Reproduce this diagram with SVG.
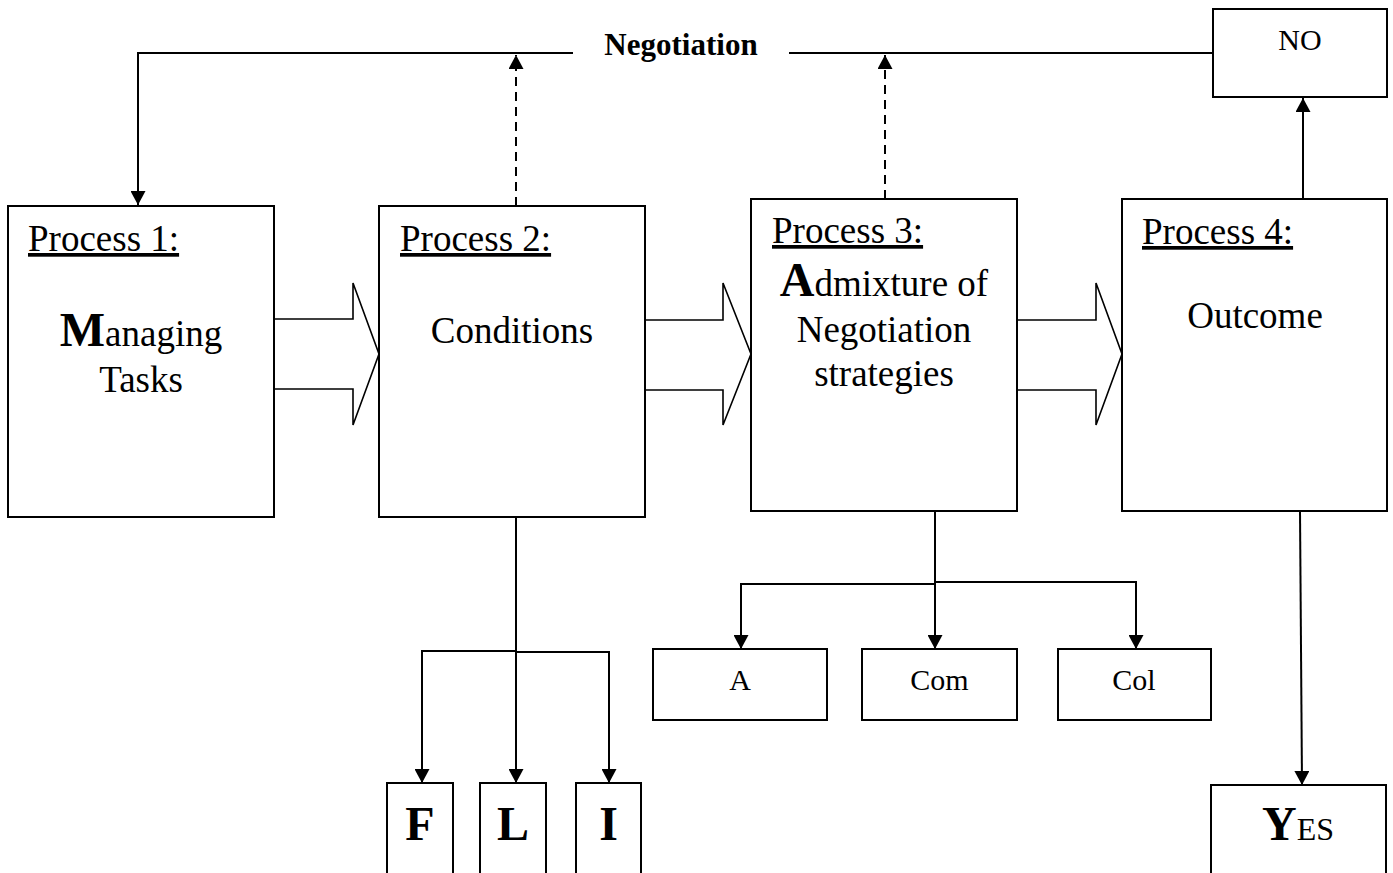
<svg xmlns="http://www.w3.org/2000/svg" width="1393" height="873" viewBox="0 0 1393 873">
<style>
.box{fill:#fff;stroke:#000;stroke-width:2}
.ln{fill:none;stroke:#000;stroke-width:2}
.dash{fill:none;stroke:#000;stroke-width:2;stroke-dasharray:9,6}
.blk{fill:#fff;stroke:#000;stroke-width:1.6;stroke-linejoin:miter}
text{font-family:"Liberation Serif","Times New Roman",serif;fill:#000}
.lbl{font-size:37px;text-decoration:underline}
.body{font-size:37px;text-anchor:middle}
.small{font-size:30px;text-anchor:middle}
.big{font-size:48px;font-weight:bold}
</style>
<defs>
<marker id="ah" viewBox="0 0 14 15" refX="14" refY="7.5" markerWidth="14" markerHeight="15" markerUnits="userSpaceOnUse" orient="auto">
<path d="M0,0 L14,7.5 L0,15 Z" fill="#000"/>
</marker>
</defs>
<rect width="1393" height="873" fill="#fff"/>

<g id="connectors">
<polyline class="ln" points="573,53 138,53 138,205" marker-end="url(#ah)"/>
<line class="ln" x1="789" y1="53" x2="1213" y2="53"/>
<line class="dash" x1="516" y1="206" x2="516" y2="55" marker-end="url(#ah)"/>
<line class="dash" x1="885" y1="199" x2="885" y2="55" marker-end="url(#ah)"/>
<line class="ln" x1="1303" y1="199" x2="1303" y2="98" marker-end="url(#ah)"/>
<polyline class="blk" points="274,319 353,319 353,283 379,354 353,425 353,389 274,389"/>
<polyline class="blk" points="645,320 723,320 723,283 751,354 723,425 723,390 645,390"/>
<polyline class="blk" points="1017,320 1096,320 1096,283 1122,354 1096,425 1096,390 1017,390"/>
<line class="ln" x1="516" y1="517" x2="516" y2="783" marker-end="url(#ah)"/>
<polyline class="ln" points="516,651 422,651 422,783" marker-end="url(#ah)"/>
<polyline class="ln" points="516,652 609,652 609,783" marker-end="url(#ah)"/>
<line class="ln" x1="935" y1="511" x2="935" y2="649" marker-end="url(#ah)"/>
<polyline class="ln" points="935,584 741,584 741,649" marker-end="url(#ah)"/>
<polyline class="ln" points="935,582 1136,582 1136,649" marker-end="url(#ah)"/>
<line class="ln" x1="1300" y1="511" x2="1302" y2="785" marker-end="url(#ah)"/>
</g>

<g id="negotiation-label">
<text x="681" y="55" font-size="31" font-weight="bold" text-anchor="middle">Negotiation</text>
</g>

<g id="process1">
<rect class="box" x="8" y="206" width="266" height="311"/>
<text class="lbl" x="28" y="251">Process 1:</text>
<text class="body" x="141" y="346"><tspan class="big">M</tspan>anaging</text>
<text class="body" x="141" y="392">Tasks</text>
</g>

<g id="process2">
<rect class="box" x="379" y="206" width="266" height="311"/>
<text class="lbl" x="400" y="251">Process 2:</text>
<text class="body" x="512" y="343">Conditions</text>
</g>

<g id="process3">
<rect class="box" x="751" y="199" width="266" height="312"/>
<text class="lbl" x="772" y="243">Process 3:</text>
<text class="body" x="884" y="296"><tspan class="big">A</tspan>dmixture of</text>
<text class="body" x="884" y="342">Negotiation</text>
<text class="body" x="884" y="386">strategies</text>
</g>

<g id="process4">
<rect class="box" x="1122" y="199" width="265" height="312"/>
<text class="lbl" x="1142" y="244">Process 4:</text>
<text class="body" x="1255" y="328">Outcome</text>
</g>

<g id="no">
<rect class="box" x="1213" y="9" width="174" height="88"/>
<text class="small" x="1300" y="50">NO</text>
</g>

<g id="yes">
<rect class="box" x="1211" y="785" width="175" height="100"/>
<text x="1298" y="840" text-anchor="middle"><tspan font-size="48" font-weight="bold">Y</tspan><tspan font-size="32">ES</tspan></text>
</g>

<g id="f">
<rect class="box" x="387" y="783" width="66" height="100"/>
<text class="big" x="420" y="840" text-anchor="middle">F</text>
</g>
<g id="l">
<rect class="box" x="480" y="783" width="66" height="100"/>
<text class="big" x="513" y="840" text-anchor="middle">L</text>
</g>
<g id="i">
<rect class="box" x="576" y="783" width="65" height="100"/>
<text class="big" x="608.5" y="840" text-anchor="middle">I</text>
</g>

<g id="a">
<rect class="box" x="653" y="649" width="174" height="71"/>
<text class="small" x="740" y="690">A</text>
</g>
<g id="com">
<rect class="box" x="862" y="649" width="155" height="71"/>
<text class="small" x="939.5" y="690">Com</text>
</g>
<g id="col">
<rect class="box" x="1058" y="649" width="153" height="71"/>
<text class="small" x="1134" y="690">Col</text>
</g>
</svg>
